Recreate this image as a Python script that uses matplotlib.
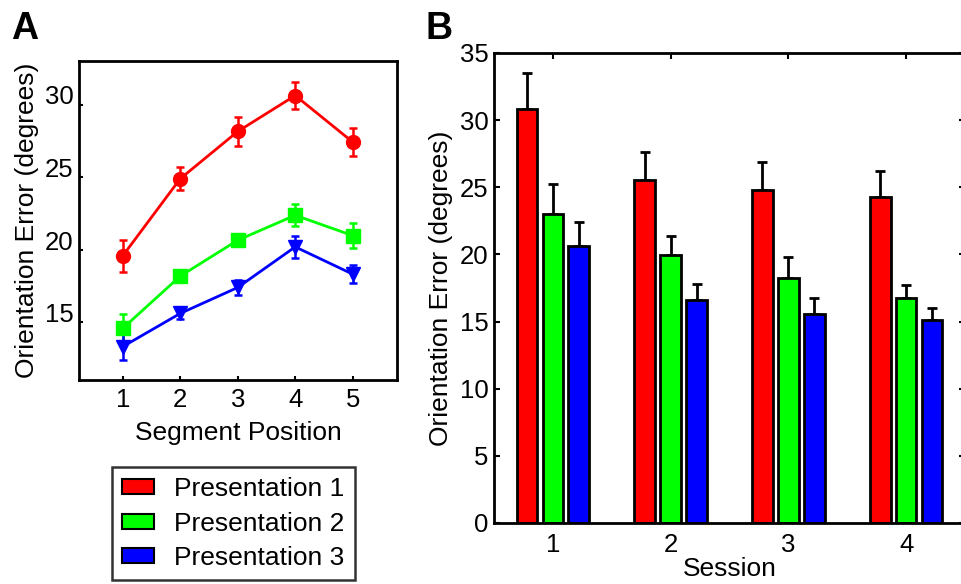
import numpy as np
import matplotlib.pyplot as plt
from matplotlib.patches import Patch

plt.rcParams['font.family'] = ['Liberation Sans', 'DejaVu Sans']

# panel A: error by segment position
positions = [1, 2, 3, 4, 5]
pres1 = [19.56, 24.88, 28.14, 30.62, 27.41]
pres1_err = [1.1, 0.8, 1.0, 0.95, 0.95]
pres2 = [14.56, 18.16, 20.64, 22.36, 20.96]
pres2_err = [1.0, 0.35, 0.35, 0.75, 0.85]
pres3 = [13.30, 15.59, 17.38, 20.18, 18.30]
pres3_err = [0.95, 0.4, 0.5, 0.75, 0.6]

# panel B: error by session
sessions = [1, 2, 3, 4]
sess_p1 = [30.83, 25.56, 24.83, 24.31]
sess_p1_err = [2.70, 2.05, 2.09, 1.91]
sess_p2 = [23.00, 19.94, 18.28, 16.72]
sess_p2_err = [2.22, 1.45, 1.50, 1.00]
sess_p3 = [20.61, 16.64, 15.58, 15.08]
sess_p3_err = [1.83, 1.14, 1.20, 0.95]

labels = ['Presentation 1', 'Presentation 2', 'Presentation 3']
colors = ['#ff0000', '#00ff00', '#0000ff']

W, H = 962, 584
fig = plt.figure(figsize=(W / 100, H / 100), dpi=100)
fs = 19

# ---- A ----
axA = fig.add_axes([79 / W, 1 - 380 / H, 318 / W, 319 / H])
markers = ['o', 's', 'v']
for y, e, c, m in zip([pres1, pres2, pres3], [pres1_err, pres2_err, pres3_err], colors, markers):
    axA.errorbar(positions, y, yerr=e, color=c, marker=m, markersize=10, lw=2,
                 elinewidth=1.8, capsize=3, capthick=1.8)
axA.set_xlim(0.24, 5.77)
axA.set_ylim(11, 33)
axA.set_xticks(positions)
axA.set_yticks([15, 20, 25, 30])
axA.tick_params(direction='in', length=3, width=1.5, labelsize=fs - 0.5, pad=4)
axA.tick_params(axis='x', pad=6)
for t in axA.get_yticklabels():
    t.set_verticalalignment('baseline')
for s in axA.spines.values():
    s.set_linewidth(2)
axA.set_xlabel('Segment Position', fontsize=fs, labelpad=6)
axA.set_ylabel('Orientation Error (degrees)', fontsize=fs, labelpad=4)

handles = [Patch(facecolor=c, edgecolor='black', lw=1.5) for c in colors]
leg = fig.legend(handles, labels, loc='upper left', bbox_to_anchor=(111.7 / W, 1 - 466.7 / H),
                 fontsize=fs, frameon=True, fancybox=False, edgecolor='black',
                 handlelength=1.2, handleheight=0.5, handletextpad=0.75,
                 labelspacing=0.39, borderpad=0.4, borderaxespad=0)
leg.get_frame().set_linewidth(1.8)

# ---- B ----
axB = fig.add_axes([494 / W, 1 - 523 / H, 471 / W, 470 / H])
x = np.array(sessions)
off = 0.22
bw = 0.175
for i, (v, e, c) in enumerate(zip([sess_p1, sess_p2, sess_p3],
                                  [sess_p1_err, sess_p2_err, sess_p3_err], colors)):
    xi = x + (i - 1) * off
    axB.bar(xi, v, width=bw, color=c, edgecolor='black', linewidth=2, zorder=2)
    axB.errorbar(xi, v, yerr=[np.zeros(len(e)), e], fmt='none', ecolor='black',
                 elinewidth=2, capsize=3.5, capthick=2, zorder=1)
axB.set_xlim(0.5, 4.5)
axB.set_ylim(0, 35)
axB.set_xticks(sessions)
axB.set_yticks(range(0, 36, 5))
axB.tick_params(direction='in', length=4, width=1.5, top=True, right=True,
                labelsize=fs - 0.5, pad=4)
axB.tick_params(axis='x', pad=7)
for s in axB.spines.values():
    s.set_linewidth(2)
axB.set_xlabel('Session', fontsize=fs, labelpad=0)
axB.set_ylabel('Orientation Error (degrees)', fontsize=fs, labelpad=5)

fig.text(11 / W, 1 - 39 / H, 'A', fontsize=27, fontweight='bold', va='baseline')
fig.text(426 / W, 1 - 39 / H, 'B', fontsize=27, fontweight='bold', va='baseline')

fig.savefig('out.png', dpi=100)
